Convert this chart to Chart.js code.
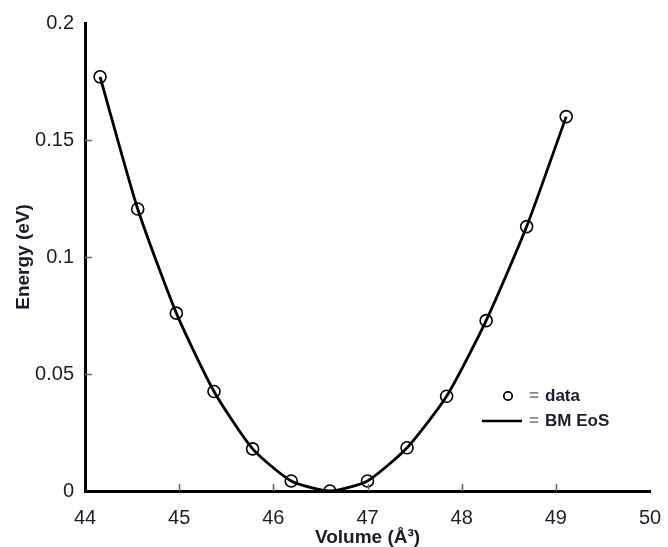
<!DOCTYPE html>
<html>
<head>
<meta charset="utf-8">
<script src="https://cdn.jsdelivr.net/npm/chart.js@4.4.1/dist/chart.umd.min.js"></script>
<style>
html,body{margin:0;padding:0;background:#fff;}
#wrap{width:668px;height:547px;position:relative;}
</style>
</head>
<body>
<div id="wrap"><canvas id="c" width="668" height="547"></canvas></div>
<script>
const volumes = [44.16, 44.56, 44.97, 45.37, 45.78, 46.19, 46.60, 47.00, 47.42, 47.84, 48.26, 48.69, 49.11];
const energies = [0.177, 0.1205, 0.076, 0.0425, 0.018, 0.0043, 0.0, 0.0043, 0.0185, 0.0405, 0.0728, 0.113, 0.160];
const xTicks = [44, 45, 46, 47, 48, 49, 50];
const yTicks = [0, 0.05, 0.1, 0.15, 0.2];
const legendLabels = ['= data', '= BM EoS'];

const points = volumes.map((v, i) => ({x: v, y: energies[i]}));
const TXT = '#1c1c2c';

const innerTicks = {
  id: 'innerTicks',
  afterDatasetsDraw(chart) {
    const ctx = chart.ctx, xs = chart.scales.x, ys = chart.scales.y;
    ctx.save();
    ctx.strokeStyle = '#666';
    ctx.lineWidth = 1.5;
    xTicks.slice(1, -1).forEach(t => {
      const px = Math.round(xs.getPixelForValue(t)) + 0.5;
      ctx.beginPath(); ctx.moveTo(px, ys.bottom); ctx.lineTo(px, ys.bottom - 7); ctx.stroke();
    });
    yTicks.slice(1, -1).forEach(t => {
      const py = Math.round(ys.getPixelForValue(t)) + 0.5;
      ctx.beginPath(); ctx.moveTo(xs.left, py); ctx.lineTo(xs.left + 7, py); ctx.stroke();
    });
    // legend
    const lx = 508, ly1 = 396, ly2 = 421;
    ctx.strokeStyle = '#000';
    ctx.lineWidth = 1.8;
    ctx.beginPath(); ctx.arc(lx, ly1, 4.2, 0, Math.PI * 2); ctx.stroke();
    ctx.lineWidth = 2.5;
    ctx.beginPath(); ctx.moveTo(482, ly2); ctx.lineTo(522, ly2); ctx.stroke();
    ctx.font = 'bold 17px "Liberation Sans", Arial, sans-serif';
    ctx.textBaseline = 'middle';
    ctx.textAlign = 'left';
    [ly1, ly2].forEach((y, i) => {
      const [eq, ...rest] = legendLabels[i].split(' ');
      ctx.fillStyle = '#888';
      ctx.fillText(eq, 529, y);
      ctx.fillStyle = TXT;
      ctx.fillText(rest.join(' '), 545, y);
    });
    ctx.restore();
  }
};

new Chart(document.getElementById('c'), {
  type: 'scatter',
  data: {
    datasets: [
      {
        type: 'line',
        label: 'BM EoS',
        data: points,
        borderColor: '#000',
        borderWidth: 2.8,
        tension: 0.2,
        pointRadius: 0,
        fill: false,
        order: 2
      },
      {
        type: 'scatter',
        label: 'data',
        data: points,
        pointRadius: 6,
        pointBorderWidth: 1.6,
        pointBorderColor: '#000',
        pointBackgroundColor: 'rgba(0,0,0,0)',
        order: 1
      }
    ]
  },
  options: {
    responsive: false,
    animation: false,
    devicePixelRatio: 1,
    layout: {padding: {top: 23, right: 18, left: 0, bottom: 0}},
    plugins: {legend: {display: false}, tooltip: {enabled: false}},
    scales: {
      x: {
        type: 'linear',
        min: 44, max: 50,
        afterFit(s) { s.height = 56; s.paddingRight = 0; s.paddingLeft = 0; },
        afterBuildTicks(s) { s.ticks = xTicks.map(v => ({value: v})); },
        grid: {display: true, drawOnChartArea: false, drawTicks: false},
        border: {display: true, color: '#000', width: 3},
        ticks: {color: TXT, font: {family: '"Liberation Sans", Arial, sans-serif', size: 20}, padding: 15, maxRotation: 0},
        title: {display: true, text: 'Volume (Å³)', color: TXT, font: {family: '"Liberation Sans", Arial, sans-serif', size: 19, weight: 'bold', lineHeight: 1}, padding: 0}
      },
      y: {
        type: 'linear',
        min: 0, max: 0.2,
        afterFit(s) { s.width = 85; s.paddingTop = 0; s.paddingBottom = 0; },
        afterBuildTicks(s) { s.ticks = yTicks.map(v => ({value: v})); },
        grid: {display: true, drawOnChartArea: false, drawTicks: false},
        border: {display: true, color: '#000', width: 3},
        ticks: {color: TXT, font: {family: '"Liberation Sans", Arial, sans-serif', size: 20}, padding: 11, callback: v => String(v)},
        title: {display: true, text: 'Energy (eV)', color: TXT, font: {family: '"Liberation Sans", Arial, sans-serif', size: 19, weight: 'bold', lineHeight: 1}, padding: {top: 14, bottom: 0}}
      }
    }
  },
  plugins: [innerTicks]
});
</script>
</body>
</html>
